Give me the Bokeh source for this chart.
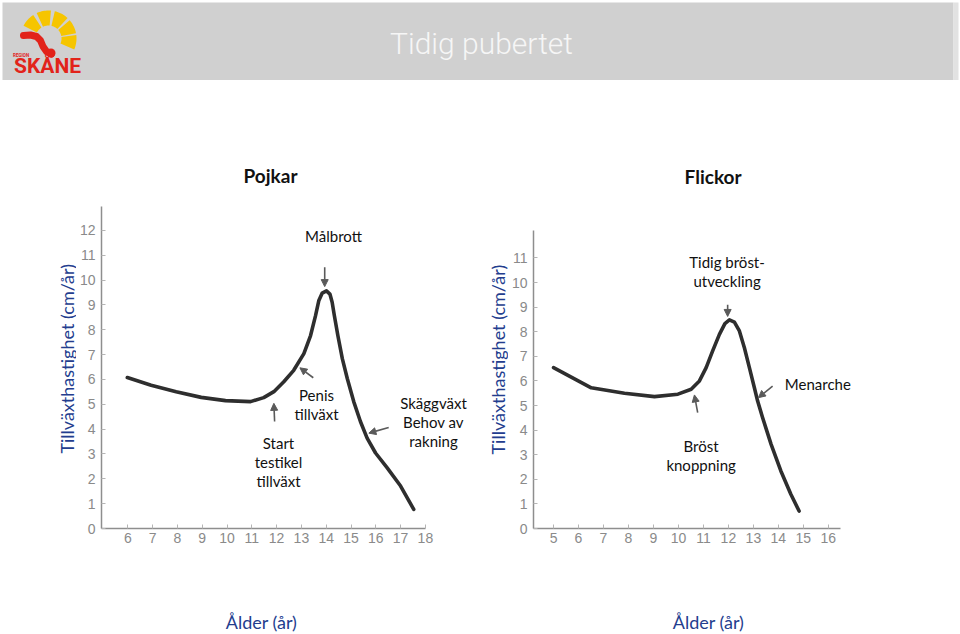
import numpy as np
from bokeh.plotting import figure
from bokeh.models import Range1d, FixedTicker, Arrow, NormalHead
from bokeh.layouts import column, row
from bokeh.embed import file_html
from bokeh.resources import INLINE
from bokeh.core.properties import value

# ---------------- data ----------------
boys_age = [5.98, 6.94, 7.95, 8.96, 9.94, 10.95, 11.48, 11.89, 12.29, 12.69, 13.1, 13.37,
            13.57, 13.7, 13.84, 14.01, 14.15, 14.24, 14.33, 14.47, 14.65, 14.85, 15.11,
            15.38, 15.65, 15.99, 16.46, 17.0, 17.53]
boys_vel = [6.08, 5.77, 5.51, 5.28, 5.15, 5.11, 5.27, 5.51, 5.91, 6.37, 7.04, 7.77,
            8.57, 9.17, 9.48, 9.57, 9.44, 9.11, 8.57, 7.77, 6.84, 6.04, 5.11,
            4.31, 3.64, 3.04, 2.44, 1.71, 0.77]

girls_age = [5.0, 6.51, 7.84, 9.04, 9.98, 10.51, 10.84, 11.11, 11.37, 11.64, 11.86, 12.04,
             12.24, 12.44, 12.64, 12.84, 13.04, 13.17, 13.37, 13.71, 14.1, 14.5, 14.83]
girls_vel = [6.54, 5.72, 5.5, 5.36, 5.46, 5.66, 6.0, 6.54, 7.22, 7.89, 8.33, 8.48,
             8.39, 8.03, 7.35, 6.54, 5.72, 5.18, 4.5, 3.42, 2.34, 1.39, 0.71]

boys_xticks = list(range(6, 19))
boys_yticks = list(range(0, 13))
girls_xticks = list(range(5, 17))
girls_yticks = list(range(0, 12))

title_text = "Tidig pubertet"
boys_title = "Pojkar"
girls_title = "Flickor"
y_label = "Tillväxthastighet (cm/år)"
x_label = "Ålder (år)"

# annotation arrows (tail age, tail value, head age, head value)
boys_arrows = [
    (13.94, 10.52, 13.94, 9.74),
    (11.92, 4.31, 11.89, 5.04),
    (13.48, 6.07, 12.94, 6.47),
    (16.52, 4.07, 15.72, 3.84),
]
girls_arrows = [
    (11.97, 9.1, 11.97, 8.62),
    (10.77, 4.71, 10.64, 5.43),
    (13.77, 5.79, 13.2, 5.32),
]

# text placements on the slide (pixel positions of each text's centre)
boys_texts = [("Pojkar", 270, 176, "bold", "19px"),
              ("Målbrott", 333, 237, "normal", "15px"),
              ("Start", 278, 445, "normal", "15px"),
              ("testikel", 278, 464, "normal", "15px"),
              ("tillväxt", 278, 483, "normal", "15px"),
              ("Penis", 316, 397, "normal", "15px"),
              ("tillväxt", 316, 416, "normal", "15px"),
              ("Skäggväxt", 433, 405, "normal", "15px"),
              ("Behov av", 433, 424, "normal", "15px"),
              ("rakning", 433, 443, "normal", "15px")]
girls_texts = [("Flickor", 712, 176, "bold", "19px"),
               ("Tidig bröst-", 726, 261, "normal", "15px"),
               ("utveckling", 726, 280, "normal", "15px"),
               ("Menarche", 817, 383, "normal", "15px"),
               ("Bröst", 700, 445, "normal", "15px"),
               ("knoppning", 700, 464, "normal", "15px")]

BLUE = "#233d8e"
CURVE = "#2e2e2e"
AXIS = "#8e8e8e"
TICKLBL = "#8a8a8a"
ARROW = "#5a5a5a"
TXT = "#111111"

BODY_TOP, BODY_BOT = 80, 600


def chart(x0, x1, axis_x, axis_y, x_of, y_of, xbounds, ybounds, xticks, yticks,
          ages, vels, arrows, texts):
    """Chart figure spanning slide pixels x0..x1, BODY_TOP..BODY_BOT.
    x_of / y_of map slide pixels to data units."""
    width = x1 - x0
    height = BODY_BOT - BODY_TOP
    p = figure(width=width, height=height, output_backend="svg", toolbar_location=None,
               title=None,
               x_range=Range1d(x_of(axis_x), x_of(x1)),
               y_range=Range1d(y_of(axis_y), y_of(BODY_TOP)),
               min_border_left=axis_x - x0, min_border_top=0,
               min_border_right=0, min_border_bottom=BODY_BOT - axis_y)
    p.outline_line_color = None
    p.grid.visible = False
    p.background_fill_color = "white"
    p.border_fill_color = "white"
    for ax, ticks, standoff, bounds in ((p.xaxis[0], xticks, 4, xbounds),
                                        (p.yaxis[0], yticks, 6, ybounds)):
        ax.ticker = FixedTicker(ticks=ticks)
        ax.bounds = bounds
        ax.axis_line_color = AXIS
        ax.axis_line_width = 1.5
        ax.major_tick_line_color = "#b5b5b5"
        ax.major_tick_in = 4
        ax.major_tick_out = 0
        ax.minor_tick_line_color = None
        ax.major_label_text_color = TICKLBL
        ax.major_label_text_font = "Liberation Sans"
        ax.major_label_text_font_size = "14px"
        ax.major_label_standoff = standoff

    p.line(ages, vels, line_color=CURVE, line_width=3.6, line_join="round", line_cap="round")

    for (tx, ty, hx, hy) in arrows:
        p.add_layout(Arrow(x_start=tx, y_start=ty, x_end=hx, y_end=hy,
                           line_color=ARROW, line_width=1.6,
                           end=NormalHead(size=7, fill_color=ARROW, line_color=ARROW)))

    for t, px, py, style, size in texts:
        p.text(x=[x_of(px)], y=[y_of(py)], text=[t], text_align="center",
               text_baseline="middle", text_font=value("Lato"), text_font_style=style,
               text_font_size=size, text_color=TXT)
    return p


# boys: tick 6 at x=127.3 px, 24.8 px per year; value 0 at y=531 px, 25 px per unit
left = chart(76, 476, 101, 531,
             lambda px: 6 + (px - 127.3) / 24.8, lambda py: (531 - py) / 25.0,
             (4.94, 18.0), (0, 12.96), boys_xticks, boys_yticks,
             boys_age, boys_vel, boys_arrows, boys_texts)

# girls: 25.04 px per year (12 at x=727.4); value 0 at y=528 px, 24.6 px per unit
right = chart(508, 960, 532, 528,
              lambda px: 10.5 + (px - 689.8) / 25.04, lambda py: (528 - py) / 24.6,
              (4.2, 16.5), (0, 12.1), girls_xticks, girls_yticks,
              girls_age, girls_vel, girls_arrows, girls_texts)


def strip(x0, x1, y0, y1, bg="white"):
    p = figure(width=x1 - x0, height=y1 - y0, output_backend="svg", toolbar_location=None,
               title=None, x_axis_type=None, y_axis_type=None,
               x_range=Range1d(x0, x1), y_range=Range1d(-y1, -y0),
               min_border_left=0, min_border_right=0, min_border_top=0, min_border_bottom=0)
    p.grid.visible = False
    p.outline_line_color = None
    p.background_fill_color = bg
    p.border_fill_color = bg
    return p


# rotated axis titles
ylab_l = strip(0, 76, BODY_TOP, BODY_BOT)
ylab_l.text(x=[66], y=[-403], text=[y_label], angle=np.pi / 2, text_align="center",
            text_baseline="middle", text_font=value("Lato"), text_font_size="18px",
            text_color=BLUE)
ylab_r = strip(476, 508, BODY_TOP, BODY_BOT)
ylab_r.text(x=[497], y=[-404], text=[y_label], angle=np.pi / 2, text_align="center",
            text_baseline="middle", text_font=value("Lato"), text_font_size="18px",
            text_color=BLUE)

# footer with x axis titles
foot = strip(0, 960, BODY_BOT, 634)
foot.text(x=[261, 708], y=[-621, -621], text=[x_label, x_label], text_align="center",
          text_baseline="middle", text_font=value("Lato"), text_font_size="18px",
          text_color=BLUE)

# ---------------- header ----------------
hdr = strip(0, 960, 0, 80)
hdr.quad(left=[2], right=[953], top=[-2], bottom=[-80], fill_color="#d0d0d0", line_color=None)
hdr.quad(left=[953], right=[958], top=[-2], bottom=[-80], fill_color="#e2e2e2", line_color=None)
hdr.text(x=[481], y=[-43], text=[title_text], text_align="center", text_baseline="middle",
         text_font=value("Roboto Light, Roboto"), text_font_size="30px", text_color="#f6f6f6")

# logo: yellow sun rays
cx, cy = 48.0, 38.0
ray_centers = [138, 100, 62, 26, -8]
xs, ys = [], []
for c in ray_centers:
    a = np.radians(np.linspace(c - 15, c + 15, 12))
    r0, r1 = 13.0, 28.0
    xs.append(list(np.concatenate([cx + r1 * np.cos(a), (cx + r0 * np.cos(a))[::-1]])))
    ys.append(list(np.concatenate([-(cy - r1 * np.sin(a)), (-(cy - r0 * np.sin(a)))[::-1]])))
hdr.patches(xs, ys, fill_color="#f6c500", line_color=None)
# red hand
hdr.line([23, 30, 36, 40, 42.5, 46, 51], [-35, -34.5, -36, -40, -46, -51, -53.5],
         line_color="#e2231a", line_width=7, line_cap="round", line_join="round")
hdr.scatter([50.5], [-52.5], size=9, fill_color="#e2231a", line_color=None)
hdr.text(x=[12.5], y=[-54.5], text=["REGION"], text_baseline="middle",
         text_font=value("Roboto"), text_font_style="bold", text_font_size="4.5px",
         text_color="#e2231a")
hdr.text(x=[47], y=[-65.5], text=["SKÅNE"], text_align="center", text_baseline="middle",
         text_font=value("Roboto"), text_font_style="bold", text_font_size="21px",
         text_color="#e2231a")

layout = column(hdr, row(ylab_l, left, ylab_r, right, spacing=0), foot, spacing=0)
open("out.html", "w").write(file_html(layout, INLINE))
